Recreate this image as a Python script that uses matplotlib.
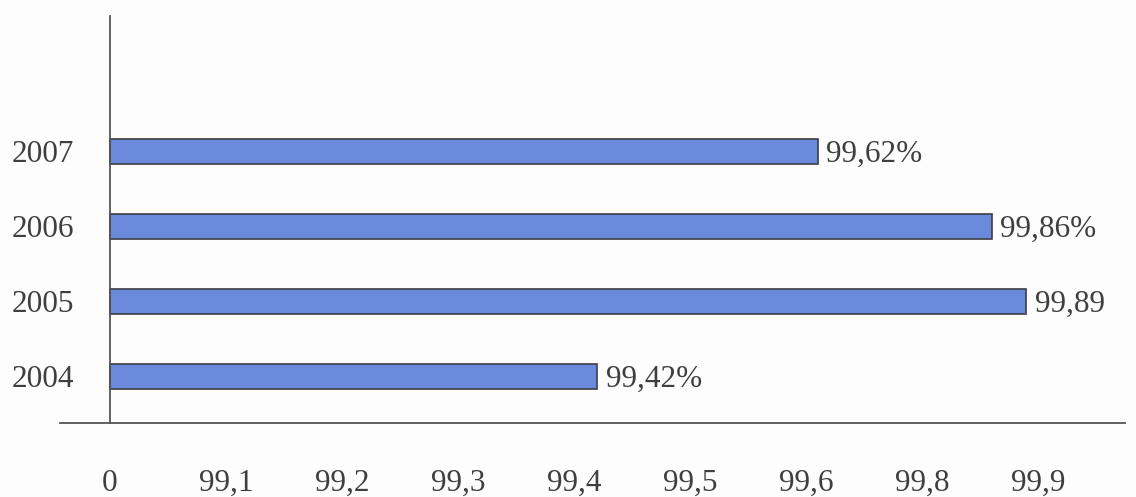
import numpy as np
import matplotlib
matplotlib.use('Agg')
import matplotlib.pyplot as plt

# ------------ Data ------------ #
years = ['2004', '2005', '2006', '2007']
values = [99.42, 99.89, 99.86, 99.62]
value_labels = ['99,42%', '99,89', '99,86%', '99,62%']

tick_values = [0, 99.1, 99.2, 99.3, 99.4, 99.5, 99.6, 99.8, 99.9]
tick_labels = ['0', '99,1', '99,2', '99,3', '99,4', '99,5', '99,6', '99,8', '99,9']

# ------------ Axis scale: tick values sit in equal slots ------------ #
TV = np.array(tick_values, dtype=float)
SLOTS = np.arange(len(TV), dtype=float)


def forward(v):
    v = np.asarray(v, dtype=float)
    s = np.interp(v, TV, SLOTS)
    s = np.where(v < TV[0], (v - TV[0]) / (TV[1] - TV[0]), s)
    s = np.where(v > TV[-1], SLOTS[-1] + (v - TV[-1]) / (TV[-1] - TV[-2]), s)
    return s


def inverse(s):
    s = np.asarray(s, dtype=float)
    v = np.interp(s, SLOTS, TV)
    v = np.where(s < 0, TV[0] + s * (TV[1] - TV[0]), v)
    v = np.where(s > SLOTS[-1], TV[-1] + (s - SLOTS[-1]) * (TV[-1] - TV[-2]), v)
    return v


# ------------ Plot ------------ #
plt.rcParams['font.family'] = ['Liberation Serif', 'DejaVu Serif']
text_color = '#3f3f3f'
line_color = '#555555'
fs = 22.5

fig = plt.figure(figsize=(11.36, 4.97), dpi=100, facecolor='#fdfdfd')
ax = fig.add_axes([0.0528, 0.149, 0.9375, 0.819])
ax.set_facecolor('#fdfdfd')

ax.set_xscale('function', functions=(forward, inverse))
ax.set_xlim(float(inverse(-0.431)), float(inverse(8.75)))

ypos = np.arange(len(years))
ax.barh(ypos, values, left=0, height=0.334, color='#6a8bdb',
        edgecolor='#3d3d45', linewidth=1.2, zorder=2)

for y, v, lbl in zip(ypos, values, value_labels):
    ax.annotate(lbl, xy=(v, y), xytext=(6, -2), textcoords='offset points',
                ha='left', va='center', fontsize=fs, color=text_color)

ax.set_ylim(-0.626, 4.81)
ax.set_yticks(ypos, years)
ax.set_xticks(tick_values, tick_labels)
ax.xaxis.set_minor_locator(matplotlib.ticker.NullLocator())

ax.tick_params(axis='y', length=0, pad=26, labelsize=fs, labelcolor=text_color)
ax.tick_params(axis='x', length=0, pad=33, labelsize=fs, labelcolor=text_color)

for side in ['top', 'right']:
    ax.spines[side].set_visible(False)
ax.spines['left'].set_position(('data', 0))
for side in ['left', 'bottom']:
    ax.spines[side].set_color(line_color)
    ax.spines[side].set_linewidth(1.3)

fig.savefig('out.png', dpi=100, facecolor=fig.get_facecolor())
